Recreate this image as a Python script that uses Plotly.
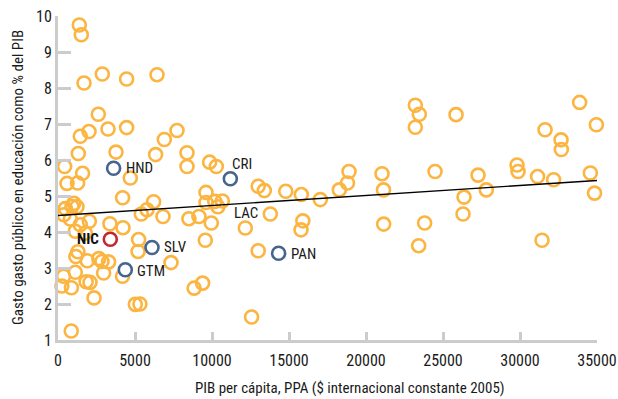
import plotly.graph_objects as go

# ---- data ----
other_x = [1383, 1513, 1688, 2877, 4455, 6429, 2617, 1448, 2013, 3247, 4455, 7728, 6903,
           1318, 3766, 6338, 8377, 429, 8377, 1597, 4695, 584, 1273, 9845, 10280, 13000,
           13397, 14790, 15800, 17034, 23203, 23463, 23203, 25846, 33873, 34958, 31626,
           32665, 32685, 29808, 29873, 31140, 32184, 34568, 34840, 27275, 27814, 24483,
           26366, 21040, 21135, 18898, 18798, 18268, 26300, 21147, 23807, 23420, 31430,
           15900, 15780, 13787, 12163, 13000, 12570, 8840, 9390, 9565, 9955, 9150, 8500,
           9611, 9611, 10180, 10670, 10380, 4195, 6208, 5780, 5410, 6818,
           470, 380, 1030, 1234, 909, 800, 1448, 2033, 3370, 4221, 1123, 1773,
           5234, 5200, 1290, 1160, 1900, 2650, 2857, 3286, 7338, 4190, 1123, 364,
           250, 870, 1830, 2080, 2961, 2340, 5020, 5320, 860]
other_y = [9.75, 9.48, 8.14, 8.39, 8.25, 8.37, 7.27, 6.66, 6.79, 6.86, 6.90, 6.82, 6.57,
           6.18, 6.22, 6.15, 6.20, 5.82, 5.82, 5.63, 5.50, 5.35, 5.36, 5.94, 5.82, 5.27,
           5.15, 5.13, 5.04, 4.90, 7.52, 7.27, 6.91, 7.26, 7.60, 6.98, 6.84,
           6.56, 6.29, 5.86, 5.68, 5.54, 5.45, 5.64, 5.08, 5.58, 5.17, 5.68,
           4.97, 5.62, 5.17, 5.68, 5.36, 5.17, 4.50, 4.22, 4.25, 3.62, 3.77,
           4.31, 4.06, 4.50, 4.11, 3.48, 1.64, 2.44, 2.58, 3.77, 4.25, 4.43, 4.37,
           5.10, 4.82, 4.85, 4.86, 4.70, 4.95, 4.84, 4.62, 4.50, 4.43,
           4.65, 4.48, 4.80, 4.70, 4.71, 4.36, 4.20, 4.30, 4.23, 4.12, 4.02, 3.97,
           3.79, 3.46, 3.45, 3.32, 3.20, 3.26, 3.18, 3.17, 3.15, 2.77, 2.88, 2.77,
           2.50, 2.45, 2.62, 2.60, 2.86, 2.17, 1.99, 2.00, 1.25]

cam_names = ["HND", "CRI", "SLV", "GTM", "PAN"]
cam_x = [3611, 11190, 6104, 4370, 14326]
cam_y = [5.77, 5.48, 3.57, 2.95, 3.41]

nic_name = "NIC"
nic_x = [3396]
nic_y = [3.80]

trend_name = "LAC"
trend_x = [0, 35000]
trend_y = [4.46, 5.43]

x_ticks = [0, 5000, 10000, 15000, 20000, 25000, 30000, 35000]
y_ticks = [1, 2, 3, 4, 5, 6, 7, 8, 9, 10]

x_title = "PIB per cápita, PPA ($ internacional constante 2005)"
y_title = "Gasto gasto público en educación como % del PIB"

# ---- style ----
FONT = "Noto Sans Condensed, Roboto Condensed, DejaVu Sans Condensed, sans-serif"
ORANGE = "#FBB540"
BLUE = "#46658C"
RED = "#C1272D"
AXIS = "#CCCCCC"
TXT = "#1a1a1a"
MS = 13
LW = 2.6
TICK_SIZE = 16
LABEL_SIZE = 15
TITLE_SIZE = 15

fig = go.Figure()
fig.add_trace(go.Scatter(x=other_x, y=other_y, mode="markers", cliponaxis=False,
                         marker=dict(size=MS, color="rgba(0,0,0,0)",
                                     line=dict(color=ORANGE, width=LW)),
                         hoverinfo="x+y", showlegend=False))
fig.add_trace(go.Scatter(x=trend_x, y=trend_y, mode="lines", cliponaxis=False,
                         line=dict(color="black", width=1.4), showlegend=False))
fig.add_trace(go.Scatter(x=cam_x, y=cam_y, mode="markers", cliponaxis=False,
                         marker=dict(size=MS, color="white",
                                     line=dict(color=BLUE, width=LW)),
                         text=cam_names, showlegend=False))
fig.add_trace(go.Scatter(x=nic_x, y=nic_y, mode="markers", cliponaxis=False,
                         marker=dict(size=MS, color="white",
                                     line=dict(color=RED, width=LW)),
                         text=[nic_name], showlegend=False))

annotations = []
offs = {"HND": (10, 0, "left", "middle"),
        "CRI": (0, 15, "left", "middle"),
        "SLV": (10, 0, "left", "middle"),
        "GTM": (10, -1, "left", "middle"),
        "PAN": (10, -1, "left", "middle")}
for n, xv, yv in zip(cam_names, cam_x, cam_y):
    dx, dy, xa, ya = offs[n]
    annotations.append(dict(x=xv, y=yv, xref="x", yref="y", text=n, showarrow=False,
                            xanchor=xa, yanchor=ya, xshift=dx, yshift=dy,
                            font=dict(family=FONT, size=LABEL_SIZE, color=TXT)))
annotations.append(dict(x=nic_x[0], y=nic_y[0], xref="x", yref="y", text="<b>NIC</b>",
                        showarrow=False, xanchor="right", yanchor="middle", xshift=-9,
                        font=dict(family=FONT, size=LABEL_SIZE, color="#111111")))
annotations.append(dict(x=12230, y=4.53, xref="x", yref="y", text=trend_name,
                        showarrow=False, xanchor="center", yanchor="middle",
                        font=dict(family=FONT, size=LABEL_SIZE, color=TXT)))
annotations.append(dict(x=0.542, y=0, xref="paper", yref="paper", text=x_title,
                        showarrow=False, xanchor="center", yanchor="middle", yshift=-48,
                        font=dict(family=FONT, size=TITLE_SIZE, color=TXT)))
annotations.append(dict(x=0, y=0.5, xref="paper", yref="paper", text=y_title,
                        showarrow=False, xanchor="center", yanchor="middle", xshift=-40,
                        textangle=-90,
                        font=dict(family=FONT, size=TITLE_SIZE, color=TXT)))

fig.update_layout(
    width=618, height=399,
    margin=dict(l=58, r=21, t=16, b=59, autoexpand=False),
    paper_bgcolor="white", plot_bgcolor="white",
    font=dict(family=FONT, size=TICK_SIZE, color=TXT),
    annotations=annotations,
    xaxis=dict(range=[0, 35000], tickvals=x_ticks, ticktext=[str(v) for v in x_ticks],
               showgrid=False, zeroline=False, showline=True, linecolor=AXIS, linewidth=3,
               ticks="inside", ticklen=8, tickwidth=3, tickcolor=AXIS,
               ticklabeloverflow="allow", automargin=False, ticklabelstandoff=4,
               tickfont=dict(family=FONT, size=TICK_SIZE, color=TXT)),
    yaxis=dict(range=[1, 10], tickvals=y_ticks, ticktext=[str(v) for v in y_ticks],
               showgrid=False, zeroline=False, showline=True, linecolor=AXIS, linewidth=3,
               ticks="inside", ticklen=13, tickwidth=3, tickcolor=AXIS, automargin=False,
               tickfont=dict(family=FONT, size=TICK_SIZE, color=TXT)),
)

fig.write_html("out.html")
